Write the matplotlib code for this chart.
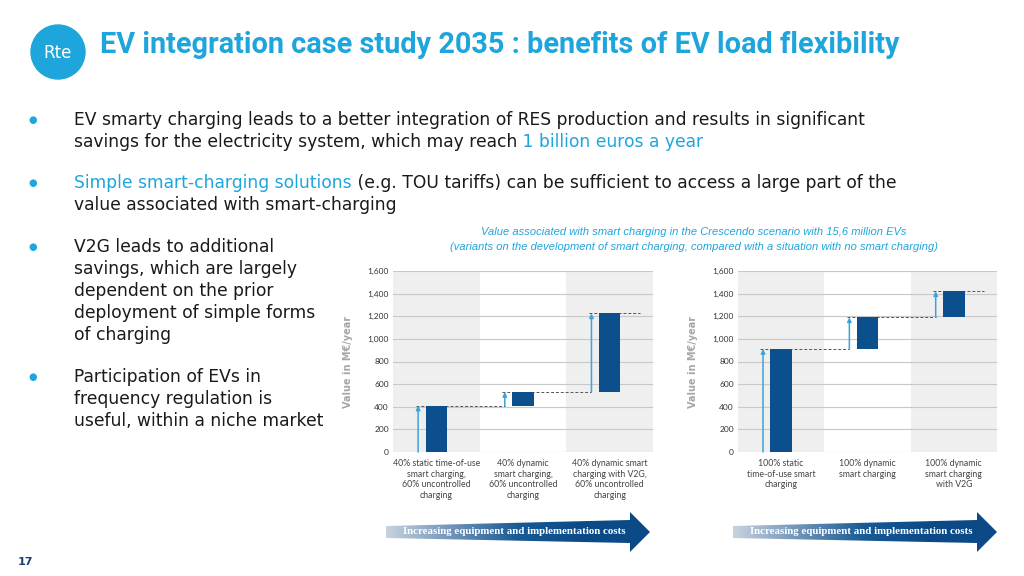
import numpy as np
import matplotlib
matplotlib.use('Agg')
import matplotlib.pyplot as plt
from matplotlib.patches import Circle, Polygon
from matplotlib.colors import LinearSegmentedColormap
from matplotlib.ticker import FuncFormatter

# data
cats_left = ["40% static time-of-use\nsmart charging,\n60% uncontrolled\ncharging",
             "40% dynamic\nsmart charging,\n60% uncontrolled\ncharging",
             "40% dynamic smart\ncharging with V2G,\n60% uncontrolled\ncharging"]
levels_left = [410, 530, 1225]
cats_right = ["100% static\ntime-of-use smart\ncharging",
              "100% dynamic\nsmart charging",
              "100% dynamic\nsmart charging\nwith V2G"]
levels_right = [910, 1190, 1420]
yticks = [0, 200, 400, 600, 800, 1000, 1200, 1400, 1600]

CYAN = '#1ea5dc'
DARK = '#1a1a1a'
BAR = '#0b4f8c'
ARROW = '#3aa3dd'

fig = plt.figure(figsize=(10.24, 5.76), dpi=100)
ov = fig.add_axes([0, 0, 1, 1])
ov.set_xlim(0, 1024)
ov.set_ylim(576, 0)
ov.axis('off')
renderer = fig.canvas.get_renderer()

# logo + title
ov.add_patch(Circle((58, 52), 27, color=CYAN))
ov.text(58, 53, 'Rte', color='white', fontsize=12, ha='center', va='center')
ov.text(100, 45, 'EV integration case study 2035 : benefits of EV load flexibility',
        color=CYAN, fontsize=20.8, fontweight='bold', va='center', family='Roboto')


def seg_text(x, y, parts, size=12.3):
    for s, c in parts:
        t = ov.text(x, y, s, color=c, fontsize=size, va='center', family='DejaVu Sans')
        x += t.get_window_extent(renderer).width


bullets = [
    (120, [[('EV smarty charging leads to a better integration of RES production and results in significant', DARK)],
           [('savings for the electricity system, which may reach', DARK), (' 1 billion euros a year', CYAN)]]),
    (183, [[('Simple smart-charging solutions', CYAN), (' (e.g. TOU tariffs) can be sufficient to access a large part of the', DARK)],
           [('value associated with smart-charging', DARK)]]),
    (247, [[('V2G leads to additional', DARK)], [('savings, which are largely', DARK)],
           [('dependent on the prior', DARK)], [('deployment of simple forms', DARK)],
           [('of charging', DARK)]]),
    (377, [[('Participation of EVs in', DARK)], [('frequency regulation is', DARK)],
           [('useful, within a niche market', DARK)]]),
]
for y0, lines in bullets:
    ov.text(33, y0, '\u25cf', color=CYAN, fontsize=7, va='center', ha='center')
    for k, parts in enumerate(lines):
        seg_text(74, y0 + 22 * k, parts)

ov.text(694, 232, 'Value associated with smart charging in the Crescendo scenario with 15,6 million EVs',
        color=CYAN, fontsize=8, style='italic', ha='center', va='center', family='Liberation Sans')
ov.text(694, 247, '(variants on the development of smart charging, compared with a situation with no smart charging)',
        color=CYAN, fontsize=8, style='italic', ha='center', va='center', family='Liberation Sans')

ov.text(18, 562, '17', color='#1b3f73', fontsize=8, fontweight='bold', va='center')

# gradient arrows under the charts
cmap = LinearSegmentedColormap.from_list('arr', ['#c7d3de', '#6f93b8', '#175a95', '#0b4a87', '#0b4a87'])
grad = np.linspace(0, 1, 256).reshape(1, -1)
for dx in [0, 347]:
    x0, xh, xt = 386 + dx, 630 + dx, 650 + dx
    verts = [(x0, 526), (xh, 520), (xh, 512), (xt, 532), (xh, 552), (xh, 543), (x0, 538)]
    poly = Polygon(verts, closed=True, facecolor='none', edgecolor='none')
    ov.add_patch(poly)
    im = ov.imshow(grad, cmap=cmap, extent=(x0, xt, 552, 512), aspect='auto', zorder=2)
    im.set_clip_path(poly)
    ov.text(514 + dx, 532, 'Increasing equipment and implementation costs',
            color='white', fontsize=7.8, fontweight='bold', ha='center', va='center',
            family='Liberation Serif', zorder=3)
ov.set_xlim(0, 1024)
ov.set_ylim(576, 0)


def waterfall(ax, cats, levels):
    ax.set_xlim(-0.5, 2.5)
    ax.set_ylim(0, 1600)
    ax.axvspan(-0.5, 0.5, color='#efefef', lw=0, zorder=0)
    ax.axvspan(1.5, 2.5, color='#efefef', lw=0, zorder=0)
    ax.set_yticks(yticks)
    ax.yaxis.set_major_formatter(FuncFormatter(lambda v, p: f'{int(v):,}'))
    ax.set_axisbelow('line')
    ax.yaxis.grid(True, color='#c8c8c8', lw=0.8)
    for s in ax.spines.values():
        s.set_visible(False)
    x = np.arange(len(cats))
    bases = [0] + list(levels[:-1])
    heights = np.array(levels) - np.array(bases)
    ax.bar(x, heights, bottom=bases, width=0.25, color=BAR, zorder=3)
    for i in range(len(cats)):
        xa = i - 0.21
        ax.annotate('', xy=(xa, levels[i]), xytext=(xa, bases[i]),
                    arrowprops=dict(arrowstyle='-|>', color=ARROW, lw=1.1,
                                    mutation_scale=6, shrinkA=0, shrinkB=0), zorder=4)
        xe = (i + 1) - 0.21 if i < len(cats) - 1 else i + 0.35
        ax.plot([xa - 0.03, xe], [levels[i], levels[i]], color='#555555', lw=0.7,
                dashes=(3, 2), zorder=2)
    ax.set_xticks(x)
    ax.set_xticklabels(cats, fontsize=6.3, color='#444444', family='Lato', linespacing=1.25)
    ax.tick_params(axis='both', length=0)
    ax.tick_params(axis='x', pad=5)
    ax.tick_params(axis='y', pad=3, labelsize=6, labelcolor='#333333')
    for lab in ax.get_yticklabels():
        lab.set_family('Lato')
    ax.set_ylabel('Value in M\u20ac/year', fontsize=7, fontweight='bold', color='#a6a6a6')
    ax.yaxis.set_label_coords(-0.154, 0.5)


ax1 = fig.add_axes([393 / 1024, (576 - 452) / 576, 260 / 1024, 181 / 576])
waterfall(ax1, cats_left, levels_left)
ax2 = fig.add_axes([738 / 1024, (576 - 452) / 576, 259 / 1024, 181 / 576])
waterfall(ax2, cats_right, levels_right)

fig.savefig('out.png', dpi=100)
